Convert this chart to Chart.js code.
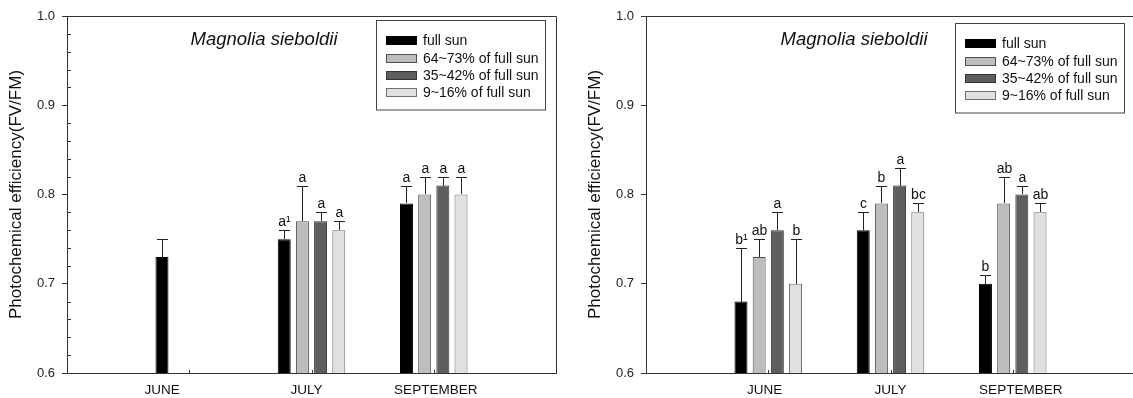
<!DOCTYPE html>
<html>
<head>
<meta charset="utf-8">
<script src="https://cdn.jsdelivr.net/npm/chart.js@4.4.1/dist/chart.umd.min.js"></script>
<style>
  html, body { margin: 0; padding: 0; background: #fff; overflow: hidden; }
  #wrap { position: relative; width: 1133px; height: 398px; overflow: hidden; }
  .panel { position: absolute; top: 0; height: 398px; }
  #left { left: 0; width: 566px; }
  #right { left: 566px; width: 575px; }
</style>
</head>
<body>
<div id="wrap">
  <div class="panel" id="left"><canvas id="chartA" width="566" height="398"></canvas></div>
  <div class="panel" id="right"><canvas id="chartB" width="575" height="398"></canvas></div>
</div>
<script>
const months = ['', 'JUNE', 'JULY', 'SEPTEMBER', ''];
const treatments = ['full sun', '64~73% of full sun', '35~42% of full sun', '9~16% of full sun'];
const yTicks = [0.6, 0.7, 0.8, 0.9, 1.0];

// left panel: means, upper SD, letters
const fullSunA = [null, 0.73, 0.75, 0.79, null];
const fullSunSdA = [null, 0.02, 0.01, 0.02, null];
const fullSunLetA = ['', '', 'a\u00b9', 'a', ''];
const sun64A = [null, null, 0.77, 0.80, null];
const sun64SdA = [null, null, 0.04, 0.02, null];
const sun64LetA = ['', '', 'a', 'a', ''];
const sun35A = [null, null, 0.77, 0.81, null];
const sun35SdA = [null, null, 0.01, 0.01, null];
const sun35LetA = ['', '', 'a', 'a', ''];
const sun9A = [null, null, 0.76, 0.80, null];
const sun9SdA = [null, null, 0.01, 0.02, null];
const sun9LetA = ['', '', 'a', 'a', ''];

// right panel
const fullSunB = [null, 0.68, 0.76, 0.70, null];
const fullSunSdB = [null, 0.06, 0.02, 0.01, null];
const fullSunLetB = ['', 'b\u00b9', 'c', 'b', ''];
const sun64B = [null, 0.73, 0.79, 0.79, null];
const sun64SdB = [null, 0.02, 0.02, 0.03, null];
const sun64LetB = ['', 'ab', 'b', 'ab', ''];
const sun35B = [null, 0.76, 0.81, 0.80, null];
const sun35SdB = [null, 0.02, 0.02, 0.01, null];
const sun35LetB = ['', 'a', 'a', 'a', ''];
const sun9B = [null, 0.70, 0.78, 0.78, null];
const sun9SdB = [null, 0.05, 0.01, 0.01, null];
const sun9LetB = ['', 'b', 'bc', 'ab', ''];

const fills = ['#000000', '#bdbdbd', '#5e5e5e', '#e0e0e0'];
const edges = ['#000000', '#505050', '#333333', '#707070'];
const FONT = "Arial, 'Liberation Sans', sans-serif";
const AXIS = '#333333';

function makeSets(values, sds, letters) {
  return values.map((v, i) => ({
    label: treatments[i],
    data: v,
    sd: sds[i],
    letters: letters[i],
    backgroundColor: fills[i],
    borderColor: edges[i],
    borderWidth: 1,
    categoryPercentage: 0.595,
    barPercentage: 0.714
  }));
}

// error bars, letters, frame, legend, species name, month labels
const decor = {
  id: 'decor',
  afterDatasetsDraw(chart, args, opts) {
    const ctx = chart.ctx;
    const y = chart.scales.y;
    ctx.save();
    chart.data.datasets.forEach((ds, di) => {
      const meta = chart.getDatasetMeta(di);
      meta.data.forEach((bar, i) => {
        const v = ds.data[i];
        if (v == null) return;
        const x = Math.round(bar.x) + 0.5;
        const top = Math.round(y.getPixelForValue(v + ds.sd[i])) + 0.5;
        ctx.strokeStyle = '#222';
        ctx.lineWidth = 1;
        ctx.beginPath();
        ctx.moveTo(x, Math.round(bar.y));
        ctx.lineTo(x, top);
        ctx.moveTo(x - 5.5, top);
        ctx.lineTo(x + 5.5, top);
        ctx.stroke();
        if (ds.letters[i]) {
          ctx.fillStyle = '#111';
          ctx.font = '14px ' + FONT;
          ctx.textAlign = 'center';
          ctx.textBaseline = 'alphabetic';
          ctx.fillText(ds.letters[i], x, top - 5);
        }
      });
    });
    ctx.restore();
  },
  afterDraw(chart, args, opts) {
    const ctx = chart.ctx;
    const a = chart.chartArea;
    const xs = chart.scales.x;
    const ys = chart.scales.y;
    ctx.save();
    ctx.strokeStyle = AXIS;
    ctx.lineWidth = 1;
    // top and right edge of the frame
    ctx.beginPath();
    ctx.moveTo(a.left, a.top + 0.5);
    ctx.lineTo(a.right + 0.5, a.top + 0.5);
    ctx.lineTo(a.right + 0.5, a.bottom);
    ctx.stroke();
    // small inner ticks at each month
    ctx.beginPath();
    for (let i = 1; i < months.length - 1; i++) {
      const px = Math.round(xs.getPixelForValue(i)) + 0.5;
      ctx.moveTo(px, a.bottom);
      ctx.lineTo(px, a.bottom - 3);
    }
    // minor y ticks
    if (opts.minor) {
      for (let k = 1; k < 20; k++) {
        if (k % 5 === 0) continue;
        const py = Math.round(ys.getPixelForValue(0.6 + k * 0.02)) + 0.5;
        ctx.moveTo(a.left, py);
        ctx.lineTo(a.left + 4, py);
      }
    }
    ctx.stroke();

    // month labels
    ctx.fillStyle = '#111';
    ctx.font = '13.5px ' + FONT;
    ctx.textAlign = 'center';
    ctx.textBaseline = 'alphabetic';
    for (let i = 1; i < months.length - 1; i++) {
      ctx.fillText(months[i], xs.getPixelForValue(i) + opts.shift[i], a.bottom + 20.5);
    }

    // species name
    ctx.font = 'italic 18.5px ' + FONT;
    ctx.fillText('Magnolia sieboldii', a.left + opts.nameX, 45);

    // legend box
    const bx = a.left + 309, by = opts.legendTop, bw = 169, bh = 89.5;
    ctx.strokeStyle = '#444';
    ctx.strokeRect(Math.round(bx) + 0.5, Math.round(by) + 0.5, bw, bh);
    const rows = [20, 37.5, 54.5, 71.5];
    ctx.font = '14px ' + FONT;
    ctx.textAlign = 'left';
    ctx.textBaseline = 'middle';
    chart.data.datasets.forEach((ds, i) => {
      const cy = Math.round(by + rows[i]);
      ctx.fillStyle = ds.backgroundColor;
      ctx.fillRect(Math.round(bx + 10), cy - 4, 31, 9);
      ctx.strokeStyle = ds.borderColor;
      ctx.strokeRect(Math.round(bx + 10) + 0.5, cy - 3.5, 30, 8);
      ctx.fillStyle = '#111';
      ctx.fillText(ds.label, bx + 47, cy + 1);
    });
    ctx.restore();
  }
};

function build(id, sets, padLeft, padRight, decorOpts) {
  return new Chart(document.getElementById(id), {
    type: 'bar',
    data: { labels: months, datasets: sets },
    plugins: [decor],
    options: {
      responsive: false,
      animation: false,
      devicePixelRatio: 1,
      layout: { padding: { top: 16, left: padLeft, right: padRight, bottom: 0 } },
      plugins: {
        legend: { display: false },
        tooltip: { enabled: false },
        decor: decorOpts
      },
      scales: {
        x: {
          offset: false,
          grid: { display: false },
          border: { color: AXIS, width: 1 },
          ticks: { display: false },
          afterFit(scale) { scale.height = 25; }
        },
        y: {
          min: 0.6,
          max: 1.0,
          afterBuildTicks(scale) { scale.ticks = yTicks.map(v => ({ value: v })); },
          grid: { drawOnChartArea: false, tickLength: 5, color: AXIS },
          border: { color: AXIS, width: 1 },
          ticks: {
            padding: 7,
            color: '#222',
            font: { family: FONT, size: 13 },
            callback: v => Number(v).toFixed(1)
          },
          title: {
            display: true,
            text: 'Photochemical efficiency(FV/FM)',
            color: '#111',
            font: { family: FONT, size: 17 },
            padding: { top: 6.5, bottom: 0 }
          },
          afterFit(scale) { scale.width = 67; }
        }
      }
    }
  });
}

build('chartA',
  makeSets([fullSunA, sun64A, sun35A, sun9A],
           [fullSunSdA, sun64SdA, sun35SdA, sun9SdA],
           [fullSunLetA, sun64LetA, sun35LetA, sun9LetA]),
  0, 10,
  { minor: true, shift: [0, -27, -5, 2, 0], nameX: 197, legendTop: 20 });

build('chartB',
  makeSets([fullSunB, sun64B, sun35B, sun9B],
           [fullSunSdB, sun64SdB, sun35SdB, sun9SdB],
           [fullSunLetB, sun64LetB, sun35LetB, sun9LetB]),
  13, 6,
  { minor: false, shift: [0, -3.5, 0, 8, 0], nameX: 208, legendTop: 23 });
</script>
</body>
</html>
